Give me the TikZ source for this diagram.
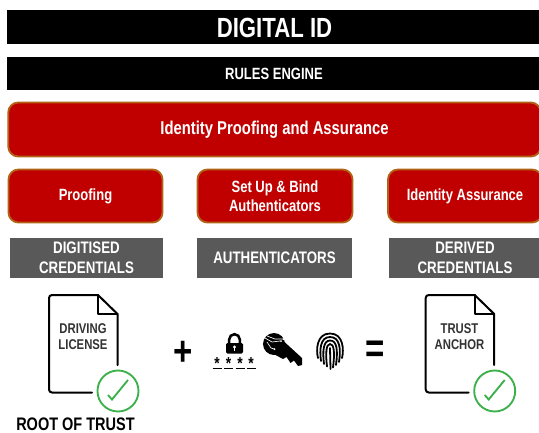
\documentclass[tikz,border=0pt]{standalone}
\usepackage{fontspec}
\setmainfont[FakeStretch=0.8]{Liberation Sans}
\usepackage{tikz}

\definecolor{boxred}{RGB}{192,0,0}
\definecolor{boxedge}{RGB}{178,98,20}
\definecolor{boxgray}{RGB}{89,89,89}
\definecolor{checkgreen}{RGB}{60,176,74}
\definecolor{doctext}{RGB}{50,50,50}

\tikzset{
  blackbar/.style={fill=black,text=white,inner sep=0pt,font=\bfseries},
  redbox/.style={fill=boxred,draw=boxedge,line width=1.4pt,rounded corners=7.5pt,text=white,inner sep=0pt,align=center,font=\bfseries\fontsize{12.2}{14}\selectfont},
  graybox/.style={fill=boxgray,text=white,inner sep=0pt,align=center,font=\bfseries\fontsize{12.5}{15}\selectfont},
  doclabel/.style={text=doctext,inner sep=0pt,align=center,font=\bfseries\fontsize{10.6}{12}\selectfont},
  docline/.style={line width=1.5pt,line join=round,line cap=round},
  signlabel/.style={inner sep=0pt,font=\bfseries\fontsize{31}{31}\selectfont},
  printline/.style={line width=1.35pt,line cap=round}
}

\begin{document}
\begin{tikzpicture}[x=0.75pt,y=0.75pt,yscale=-1,xscale=1]
\useasboundingbox (0,0) rectangle (539,432);

% bars
\path[blackbar] (7,10) rectangle (539,44);
\node[text=white,inner sep=0pt,font=\bfseries\fontsize{20.8}{22}\selectfont] (digitalid) at (274.5,28) {DIGITAL ID};
\path[blackbar] (7,57) rectangle (539,90);
\node[text=white,inner sep=0pt,font=\bfseries\fontsize{12.2}{14}\selectfont] (rulesengine) at (274,74) {RULES ENGINE};

% red boxes
\node[redbox,minimum width=532.5pt*0.75,minimum height=54pt*0.75] (assurancebox) at (274.5,129.5) {\fontsize{13.9}{16}\selectfont Identity Proofing and Assurance};
\node[redbox,minimum width=154pt*0.75,minimum height=53pt*0.75] (proofing) at (85.5,196) {Proofing};
\node[redbox,minimum width=155pt*0.75,minimum height=53pt*0.75] (setup) at (275,196) {Set Up \& Bind\\Authenticators};
\node[redbox,minimum width=154pt*0.75,minimum height=53pt*0.75] (identity) at (465,196) {Identity Assurance};

% gray boxes
\node[graybox,minimum width=153pt*0.75,minimum height=40pt*0.75] (digitised) at (86.5,258) {DIGITISED\\CREDENTIALS};
\node[graybox,minimum width=155pt*0.75,minimum height=40pt*0.75] (authenticators) at (274.5,258) {AUTHENTICATORS};
\node[graybox,minimum width=152pt*0.75,minimum height=40pt*0.75] (derived) at (465,258) {DERIVED\\CREDENTIALS};

% documents with check marks
\foreach \docx in {0,376.7}{
\begin{scope}[xshift=\docx*0.75pt]
\draw[docline] (92,392.5) -- (52,392.5) arc (90:180:3) -- (49,298) arc (180:270:3) -- (98,295) -- (117.5,314) -- (117.5,365);
\draw[docline] (98,295) -- (98,314) -- (117.5,314);
\draw[checkgreen,line width=1.4pt] (118,391) circle (20.5);
\draw[checkgreen,line width=1.4pt] (108,395) -- (112,399.5) -- (128,380);
\end{scope}
}
\node[doclabel] (driving) at (83,337) {DRIVING\\LICENSE};
\node[doclabel] (trust) at (459.5,337) {TRUST\\ANCHOR};
\node[inner sep=0pt,font=\bfseries\fontsize{13.6}{16}\selectfont] (rootoftrust) at (75.5,424) {ROOT OF TRUST};

% signs
\node[signlabel] (plus) at (183,353) {+};
\node[signlabel] (equals) at (375,351.5) {=};

% lock and stars
\fill[rounded corners=1pt] (226,343) -- (243,343) -- (243,353.5) -- (226,353.5) -- cycle;
\draw[line width=1.9pt] (229.2,344) -- (229.2,339.5) arc (180:360:5.3) -- (239.8,344);
\fill[white] (234.5,347) circle (1.6);
\draw[white,line width=1pt] (234.5,347.5) -- (234.5,350.5);
\foreach \starx/\starname in {217/a,228.5/b,240/c,251/d}{
\node[inner sep=0pt,font=\bfseries\fontsize{13}{13}\selectfont] (star\starname) at (\starx,364) {*};
\draw[line width=1.2pt] (\starx-4.5,368.5) -- (\starx+4.5,368.5);
}

% key
\fill (274,344) circle (11);
\fill (279,337) -- (302,358) -- (302,365) -- (298,366) -- (294,360.5) -- (290.5,363) -- (286.5,357) -- (283,359) -- (270,352) -- cycle;
\draw[white,line width=0.5pt] (265,338) -- (272,342) -- (280,341);
\draw[white,line width=0.5pt] (267,336) -- (275,339) -- (283,339);
\draw[white,line width=0.5pt] (267,342) -- (271,348) -- (274,349);
\fill[white] (281,341) circle (1) (283.5,339) circle (1) (274.5,349) circle (1);

% fingerprint
\draw[printline] (318,358) .. controls (316,350) and (316.5,333.5) .. (330,333.5) .. controls (343.5,333.5) and (344,350) .. (342,358);
\draw[printline] (321,361) .. controls (319.5,350) and (320,337) .. (330,337) .. controls (340,337) and (341,349) .. (339,362);
\draw[printline] (324,364) .. controls (322.5,352) and (323,340.5) .. (330,340.5) .. controls (337,340.5) and (338,350) .. (336,365);
\draw[printline] (327,366.5) .. controls (325.5,354) and (326,344) .. (330,344) .. controls (334,344) and (335,352) .. (333,367.5);
\draw[printline] (330,348) -- (330.5,369);

\end{tikzpicture}
\end{document}
